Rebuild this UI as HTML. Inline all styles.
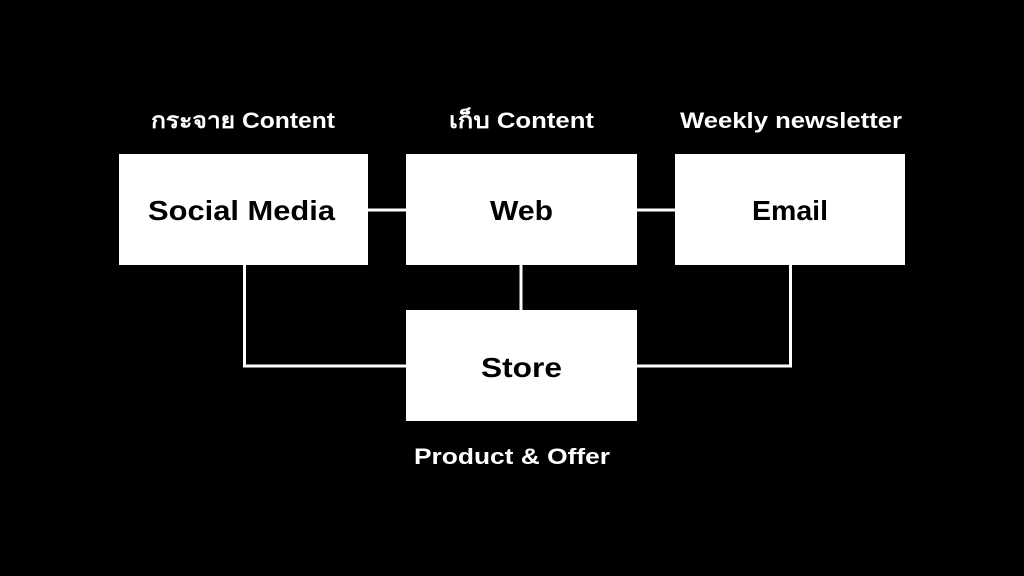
<!DOCTYPE html>
<html><head><meta charset="utf-8"><style>
html,body{margin:0;padding:0;background:#000;}
svg{display:block}
text{font-family:"Liberation Sans","DejaVu Sans",sans-serif;}
</style></head><body>
<svg width="1024" height="576" viewBox="0 0 1024 576" xmlns="http://www.w3.org/2000/svg">
<rect width="1024" height="576" fill="#000"/>
<g stroke="#fff" stroke-width="3" fill="none">
<line x1="368" y1="210" x2="406" y2="210"/>
<line x1="637" y1="210" x2="675" y2="210"/>
<line x1="521" y1="265" x2="521" y2="310"/>
<polyline points="244.5,265 244.5,366 406,366"/>
<polyline points="790.5,265 790.5,366 637,366"/>
</g>
<g fill="#fff">
<rect x="119" y="154" width="249" height="111"/>
<rect x="406" y="154" width="231" height="111"/>
<rect x="675" y="154" width="230" height="111"/>
<rect x="406" y="310" width="231" height="111"/>
</g>
<g fill="#000" font-size="28" font-weight="bold">
<text x="148" y="220" textLength="187" lengthAdjust="spacingAndGlyphs">Social Media</text>
<text x="490" y="220" textLength="63" lengthAdjust="spacingAndGlyphs">Web</text>
<text x="752" y="220" textLength="76" lengthAdjust="spacingAndGlyphs">Email</text>
<text x="481" y="377" textLength="81" lengthAdjust="spacingAndGlyphs">Store</text>
</g>
<g fill="#fff" font-size="22" font-weight="bold">
<text x="151" y="128" textLength="184" lengthAdjust="spacingAndGlyphs">กระจาย Content</text>
<text x="449" y="128" textLength="145" lengthAdjust="spacingAndGlyphs">เก็บ Content</text>
<text x="680" y="128" textLength="222" lengthAdjust="spacingAndGlyphs">Weekly newsletter</text>
<text x="414" y="464" textLength="196" lengthAdjust="spacingAndGlyphs">Product &amp; Offer</text>
</g>
</svg>
</body></html>
